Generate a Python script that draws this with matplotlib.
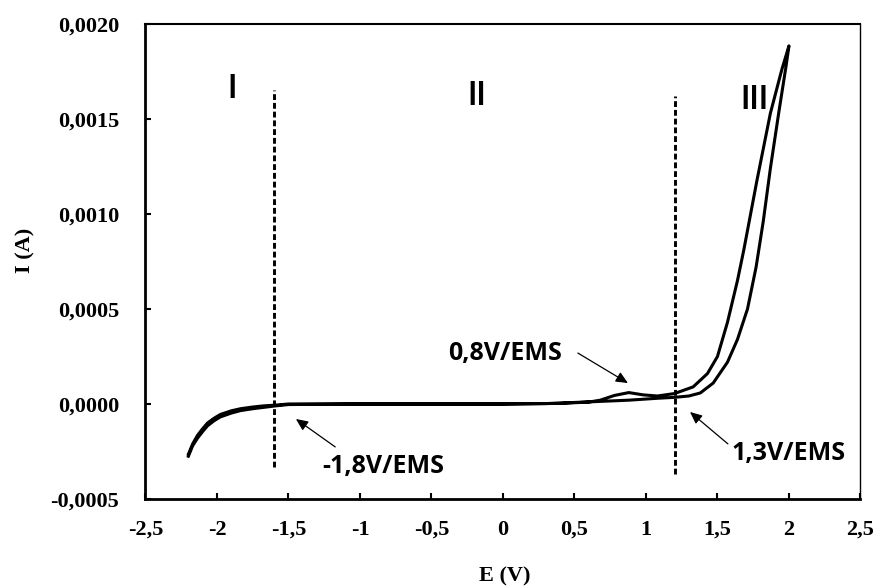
import matplotlib
matplotlib.use('Agg')
import matplotlib.pyplot as plt

# voltammogramme - aller (branche basse) puis retour (branche haute)
E_aller = [-2.2, -2.17, -2.136, -2.1, -2.066, -2.02, -1.976, -1.9, -1.836, -1.75, -1.675, -1.59,
           -1.5, -1.0, -0.5, 0.0, 0.3, 0.63, 0.88, 1.08, 1.2, 1.3, 1.38, 1.47, 1.57, 1.64,
           1.71, 1.77, 1.82, 1.87, 1.93, 1.98, 2.0]
I_aller = [-2.75, -2.2, -1.8, -1.45, -1.15, -0.88, -0.68, -0.48, -0.35, -0.25, -0.18, -0.1,
           -0.03, 0.0, 0.0, 0.0, 0.02, 0.12, 0.2, 0.3, 0.35, 0.42, 0.58, 1.1, 2.2, 3.4,
           5.0, 7.2, 9.6, 12.4, 15.4, 17.8, 18.85]

E_retour = [2.0, 1.95, 1.87, 1.777, 1.684, 1.64, 1.57, 1.50, 1.43, 1.33, 1.2, 1.08, 0.98,
            0.88, 0.78, 0.68, 0.6, 0.4, 0.0, -0.5, -1.0, -1.5, -1.59, -1.675, -1.75, -1.836,
            -1.9, -1.976, -2.02, -2.066, -2.1, -2.136, -2.17, -2.2]
I_retour = [18.85, 17.6, 15.3, 11.8, 8.1, 6.5, 4.3, 2.5, 1.6, 0.9, 0.55, 0.42, 0.48,
            0.6, 0.45, 0.2, 0.1, 0.03, 0.0, 0.0, 0.0, 0.0, -0.06, -0.1, -0.16, -0.25,
            -0.36, -0.55, -0.75, -1.0, -1.3, -1.65, -2.1, -2.65]

# limites des domaines
E_limites = [-1.6, 1.2]
I_limites_haut = [16.5e-4, 16.2e-4]
I_limites_bas = [-3.3e-4, -3.7e-4]

xticks = [-2.5, -2, -1.5, -1, -0.5, 0, 0.5, 1, 1.5, 2, 2.5]
xlabels = ['-2,5', '-2', '-1,5', '-1', '-0,5', '0', '0,5', '1', '1,5', '2', '2,5']
yticks = [-0.0005, 0.0, 0.0005, 0.0010, 0.0015, 0.0020]
ylabels = ['-0,0005', '0,0000', '0,0005', '0,0010', '0,0015', '0,0020']

E = E_aller + E_retour
I = [v * 1e-4 for v in I_aller + I_retour]

fig = plt.figure(figsize=(8.8, 5.88), dpi=100)
ax = fig.add_axes([0.1653, 0.1514, 0.8125, 0.8078])

ax.plot(E, I, color='black', lw=2.2, solid_joinstyle='round')

for e, h, b in zip(E_limites, I_limites_haut, I_limites_bas):
    ax.plot([e, e], [b, h], color='black', lw=2.1, linestyle=(0, (2.0, 1.0)))

ax.set_xlim(-2.5, 2.5)
ax.set_ylim(-0.0005, 0.0020)
ax.set_xticks(xticks)
ax.set_xticklabels(xlabels)
ax.set_yticks(yticks)
ax.set_yticklabels(ylabels)

serif = {'family': 'Liberation Serif', 'weight': 'bold', 'size': 16}
for lab in ax.get_xticklabels() + ax.get_yticklabels():
    lab.set_fontproperties(matplotlib.font_manager.FontProperties(**serif))

ax.tick_params(axis='x', direction='in', length=4.5, width=1.5, pad=15)
ax.tick_params(axis='y', direction='in', length=4, width=1.5, pad=19)

ax.spines['left'].set_linewidth(2.0)
ax.spines['bottom'].set_linewidth(2.0)
ax.spines['top'].set_linewidth(1.5)
ax.spines['right'].set_linewidth(1.0)

ax.set_xlabel('E (V)', fontdict=serif)
ax.set_ylabel('I (A)', fontdict=serif, va='center')
ax.xaxis.set_label_coords(0.503, -0.143)
ax.yaxis.set_label_coords(-0.1685, 0.524)

# numeros des domaines
chiffres = {'family': ['Roboto', 'DejaVu Sans'], 'weight': 'medium', 'size': 24}
ax.text(-1.893, 16.6e-4, 'I', ha='center', va='center', fontdict=chiffres)
ax.text(-0.185, 16.2e-4, 'II', ha='center', va='center', fontdict=chiffres)
ax.text(1.759, 16.0e-4, 'III', ha='center', va='center', fontdict=chiffres)

# potentiels
pot = {'family': ['Open Sans', 'DejaVu Sans'], 'weight': 'bold', 'size': 18}
fleche = dict(arrowstyle='-|>,head_length=0.6,head_width=0.27', lw=0.9,
              color='black', mutation_scale=12, shrinkA=0, shrinkB=0)
ax.text(-1.266, -3.29e-4, '-1,8V/EMS', ha='left', va='center', fontdict=pot)
ax.annotate('', xy=(-1.448, -0.79e-4), xytext=(-1.173, -2.26e-4), arrowprops=fleche)
ax.text(-0.385, 2.68e-4, '0,8V/EMS', ha='left', va='center', fontdict=pot)
ax.annotate('', xy=(0.874, 1.1e-4), xytext=(0.524, 2.68e-4), arrowprops=fleche)
ax.text(1.601, -2.6e-4, '1,3V/EMS', ha='left', va='center', fontdict=pot)
ax.annotate('', xy=(1.308, -0.42e-4), xytext=(1.573, -2.1e-4), arrowprops=fleche)

fig.savefig('out.png', dpi=100)
